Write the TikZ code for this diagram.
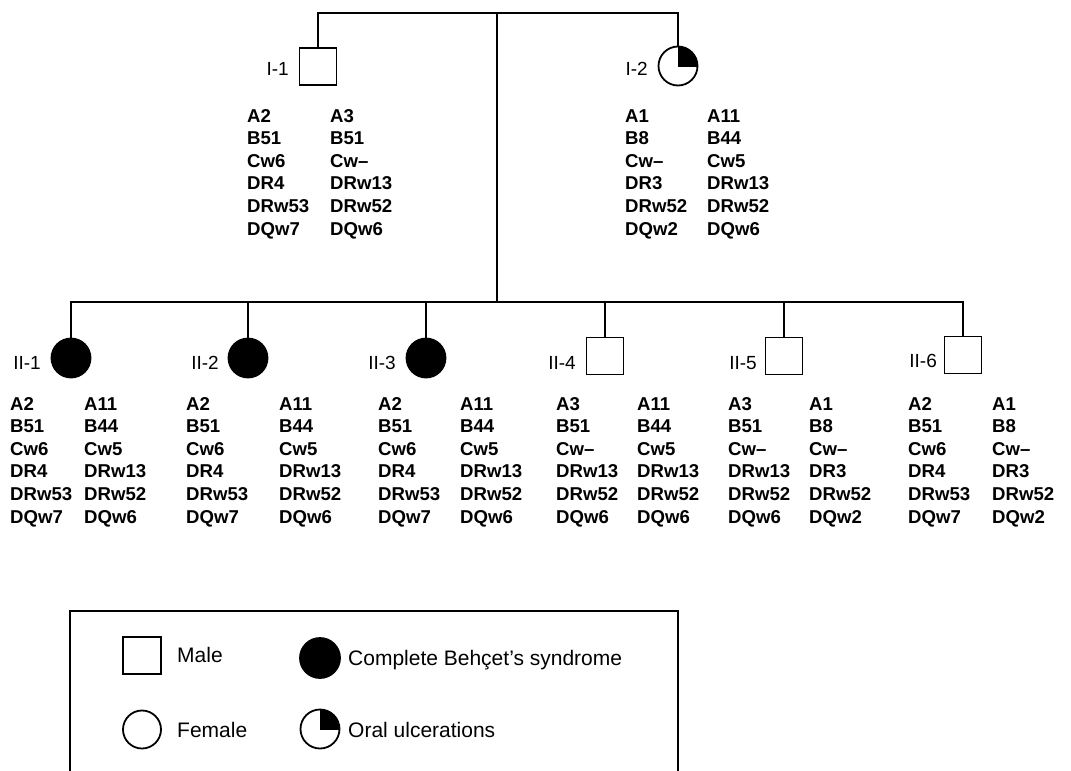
\documentclass[tikz,border=0pt]{standalone}
\usepackage{fontspec}
\setmainfont{Liberation Sans}
\usetikzlibrary{calc}
\tikzset{
  ln/.style={line width=1.8pt},
  male/.style={draw, line width=1.8pt, rectangle, minimum width=37pt, minimum height=37pt, inner sep=0pt},
  fem/.style={draw, line width=1.8pt, circle, minimum size=39pt, inner sep=0pt},
  affected/.style={fem, fill=black},
  geno/.style={inner sep=0pt, anchor=base west, font=\bfseries\fontsize{18.6}{22.6}\selectfont},
  idlab/.style={inner sep=0pt, anchor=base east, font=\fontsize{19}{22.6}\selectfont},
  legtxt/.style={inner sep=0pt, anchor=base west, font=\fontsize{21}{25}\selectfont},
}
\newcommand\gcol[4]{\foreach \t [count=\k] in {#4}{\node[geno] (#1-\k) at (#2, {#3+22.6*(\k-1)}) {\t};}}
\begin{document}
\begin{tikzpicture}[x=1pt, y=-1pt]
\useasboundingbox (0,0) rectangle (1071,771);
% generation I
\coordinate (topmid) at (497,13);
\coordinate (sibmid) at (497,302);
\node[male] (i1) at (318,66.5) {};
\node[fem] (i2) at (678,66) {};
\begin{scope}
  \clip (i2.center) rectangle ++(25pt,25pt);
  \fill (i2.center) circle[radius=19.5pt];
\end{scope}
\draw[ln] (i1.north) -- (i1.north |- topmid) -- (i2.north |- topmid) -- (i2.north);
\draw[ln] (topmid) -- (sibmid);
\node[idlab] (l-i1) at (289,75) {I-1};
\node[idlab] (l-i2) at (648,75) {I-2};
\gcol{i1a}{247}{122}{A2,B51,Cw6,DR4,DRw53,DQw7}
\gcol{i1b}{330}{122}{A3,B51,Cw–,DRw13,DRw52,DQw6}
\gcol{i2a}{625}{122}{A1,B8,Cw–,DR3,DRw52,DQw2}
\gcol{i2b}{707}{122}{A11,B44,Cw5,DRw13,DRw52,DQw6}
% generation II
\node[affected] (c1) at (71,358) {};
\node[affected] (c2) at (248,358) {};
\node[affected] (c3) at (426,358) {};
\node[male] (c4) at (605,356) {};
\node[male] (c5) at (784,356) {};
\node[male] (c6) at (963,355) {};
\draw[ln] (c1.north) -- (c1.north |- sibmid) -- (c6.north |- sibmid) -- (c6.north);
\foreach \c in {c2,c3,c4,c5}{\draw[ln] (\c.north) -- (\c.north |- sibmid);}
\node[idlab] (l-c1) at (41,369) {II-1};
\node[idlab] (l-c2) at (219,369) {II-2};
\node[idlab] (l-c3) at (396,369) {II-3};
\node[idlab] (l-c4) at (576,369) {II-4};
\node[idlab] (l-c5) at (757,369) {II-5};
\node[idlab] (l-c6) at (937,367) {II-6};
\gcol{c1a}{10}{410}{A2,B51,Cw6,DR4,DRw53,DQw7}
\gcol{c1b}{84}{410}{A11,B44,Cw5,DRw13,DRw52,DQw6}
\gcol{c2a}{186}{410}{A2,B51,Cw6,DR4,DRw53,DQw7}
\gcol{c2b}{279}{410}{A11,B44,Cw5,DRw13,DRw52,DQw6}
\gcol{c3a}{378}{410}{A2,B51,Cw6,DR4,DRw53,DQw7}
\gcol{c3b}{460}{410}{A11,B44,Cw5,DRw13,DRw52,DQw6}
\gcol{c4a}{556}{410}{A3,B51,Cw–,DRw13,DRw52,DQw6}
\gcol{c4b}{637}{410}{A11,B44,Cw5,DRw13,DRw52,DQw6}
\gcol{c5a}{728}{410}{A3,B51,Cw–,DRw13,DRw52,DQw6}
\gcol{c5b}{809}{410}{A1,B8,Cw–,DR3,DRw52,DQw2}
\gcol{c6a}{908}{410}{A2,B51,Cw6,DR4,DRw53,DQw7}
\gcol{c6b}{992}{410}{A1,B8,Cw–,DR3,DRw52,DQw2}
% legend
\coordinate (lgbl) at (70,771);
\coordinate (lgtl) at (70,611);
\coordinate (lgtr) at (678,611);
\coordinate (lgbr) at (678,771);
\draw[ln] (lgbl) -- (lgtl) -- (lgtr) -- (lgbr);
\node[male, minimum width=38pt] (lm) at (142,655.5) {};
\node[fem, minimum size=38pt] (lf) at (142,729.5) {};
\node[affected, minimum size=40pt] (la) at (320,658) {};
\node[fem, minimum size=39pt] (lo) at (320,729) {};
\begin{scope}
  \clip (lo.center) rectangle ++(25pt,25pt);
  \fill (lo.center) circle[radius=19.5pt];
\end{scope}
\node[legtxt] (tm) at (177,662) {Male};
\node[legtxt] (tf) at (177,737) {Female};
\node[legtxt] (ta) at (348,665) {Complete Behçet’s syndrome};
\node[legtxt] (to) at (348,737) {Oral ulcerations};
\end{tikzpicture}
\end{document}
